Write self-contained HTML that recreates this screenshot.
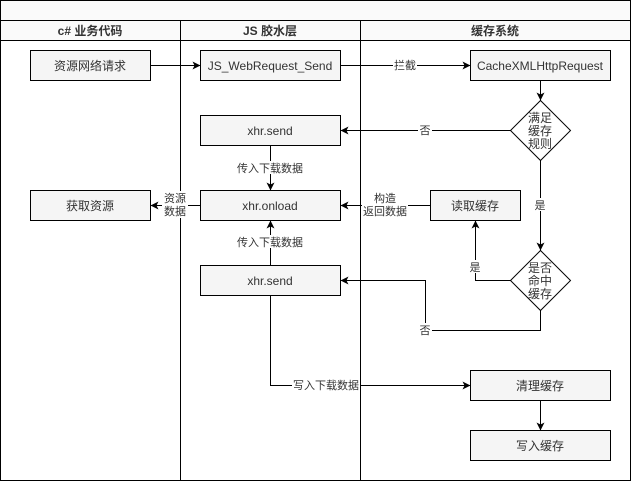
<!DOCTYPE html>
<html><head><meta charset="utf-8">
<style>
html,body{margin:0;padding:0;background:#fff;}
svg{display:block;}
text{font-family:"Liberation Sans","Noto Sans CJK SC",sans-serif;fill:#333;}
</style></head>
<body>
<svg width="631" height="481" viewBox="0 0 631 481" xmlns="http://www.w3.org/2000/svg">
<defs>
<marker id="a" markerWidth="10" markerHeight="10" refX="8" refY="4" orient="auto" markerUnits="userSpaceOnUse">
<path d="M0,0 L8,4 L0,8 L2,4 Z" fill="#000"/>
</marker>
</defs>
<!-- pool -->
<rect x="0.5" y="0.5" width="630" height="480" fill="#fff" stroke="#000"/>
<rect x="0.5" y="0.5" width="630" height="20" fill="#fafafa" stroke="#000"/>
<rect x="0.5" y="20.5" width="630" height="20" fill="#fafafa" stroke="#000"/>
<line x1="180.5" y1="20" x2="180.5" y2="481" stroke="#000"/>
<line x1="360.5" y1="20" x2="360.5" y2="481" stroke="#000"/>
<g font-size="12" font-weight="bold" text-anchor="middle">
<text x="90" y="35">c# 业务代码</text>
<text x="270" y="35">JS 胶水层</text>
<text x="495" y="35">缓存系统</text>
</g>

<!-- boxes -->
<g fill="#f5f5f5" stroke="#000">
<rect x="30.5" y="50.5" width="120" height="30"/>
<rect x="200.5" y="50.5" width="140" height="30"/>
<rect x="470.5" y="50.5" width="140" height="30"/>
<rect x="200.5" y="115.5" width="140" height="30"/>
<rect x="200.5" y="190.5" width="140" height="30"/>
<rect x="30.5" y="190.5" width="120" height="30"/>
<rect x="430.5" y="190.5" width="90" height="30"/>
<rect x="200.5" y="265.5" width="140" height="30"/>
<rect x="470.5" y="370.5" width="140" height="30"/>
<rect x="470.5" y="430.5" width="140" height="30"/>
</g>
<g fill="#fff" stroke="#000">
<path d="M540.5,100.5 L570.5,130.5 L540.5,160.5 L510.5,130.5 Z"/>
<path d="M540.5,250.5 L570.5,280.5 L540.5,310.5 L510.5,280.5 Z"/>
</g>
<g font-size="12" text-anchor="middle">
<text x="90" y="70">资源网络请求</text>
<text x="270" y="70">JS_WebRequest_Send</text>
<text x="540" y="70">CacheXMLHttpRequest</text>
<text x="270" y="135">xhr.send</text>
<text x="270" y="210">xhr.onload</text>
<text x="90" y="210">获取资源</text>
<text x="475" y="210">读取缓存</text>
<text x="270" y="285">xhr.send</text>
<text x="540" y="390">清理缓存</text>
<text x="540" y="450">写入缓存</text>
<text x="540" y="122">满足</text>
<text x="540" y="135">缓存</text>
<text x="540" y="148">规则</text>
<text x="540" y="272">是否</text>
<text x="540" y="285">命中</text>
<text x="540" y="298">缓存</text>
</g>

<!-- connectors -->
<g stroke="#000" fill="none" stroke-width="1">
<line x1="150.5" y1="65.5" x2="200.5" y2="65.5" marker-end="url(#a)"/>
<line x1="340.5" y1="65.5" x2="470.5" y2="65.5" marker-end="url(#a)"/>
<line x1="540.5" y1="80.5" x2="540.5" y2="100.5" marker-end="url(#a)"/>
<line x1="510.5" y1="130.5" x2="340.5" y2="130.5" marker-end="url(#a)"/>
<line x1="540.5" y1="160.5" x2="540.5" y2="250.5" marker-end="url(#a)"/>
<polyline points="510.5,280.5 475.5,280.5 475.5,220.5" marker-end="url(#a)"/>
<line x1="430.5" y1="205.5" x2="340.5" y2="205.5" marker-end="url(#a)"/>
<polyline points="540.5,310.5 540.5,330.5 425.5,330.5 425.5,280.5 340.5,280.5" marker-end="url(#a)"/>
<line x1="270.5" y1="145.5" x2="270.5" y2="190.5" marker-end="url(#a)"/>
<line x1="270.5" y1="265.5" x2="270.5" y2="220.5" marker-end="url(#a)"/>
<line x1="200.5" y1="205.5" x2="150.5" y2="205.5" marker-end="url(#a)"/>
<polyline points="270.5,295.5 270.5,385.5 470.5,385.5" marker-end="url(#a)"/>
<line x1="540.5" y1="400.5" x2="540.5" y2="430.5" marker-end="url(#a)"/>
</g>

<!-- edge labels -->
<g font-size="11" text-anchor="middle">
<rect x="393" y="59" width="24" height="13" fill="#fff"/>
<text x="405" y="69">拦截</text>
<rect x="418" y="124" width="14" height="13" fill="#fff"/>
<text x="425" y="134">否</text>
<rect x="533" y="198" width="14" height="13" fill="#fff"/>
<text x="540" y="209">是</text>
<rect x="468" y="260" width="14" height="13" fill="#fff"/>
<text x="475" y="271">是</text>
<rect x="362" y="191" width="46" height="27" fill="#fff"/>
<text x="385" y="202">构造</text>
<text x="385" y="215">返回数据</text>
<rect x="418" y="323" width="14" height="13" fill="#fff"/>
<text x="425" y="334">否</text>
<rect x="236" y="161" width="68" height="13" fill="#fff"/>
<text x="270" y="172">传入下载数据</text>
<rect x="236" y="235" width="68" height="13" fill="#fff"/>
<text x="270" y="246">传入下载数据</text>
<rect x="162" y="191" width="26" height="27" fill="#fff"/>
<text x="175" y="202">资源</text>
<text x="175" y="215">数据</text>
<rect x="292" y="378" width="68" height="13" fill="#fff"/>
<text x="326" y="389">写入下载数据</text>
</g>
</svg>
</body></html>
